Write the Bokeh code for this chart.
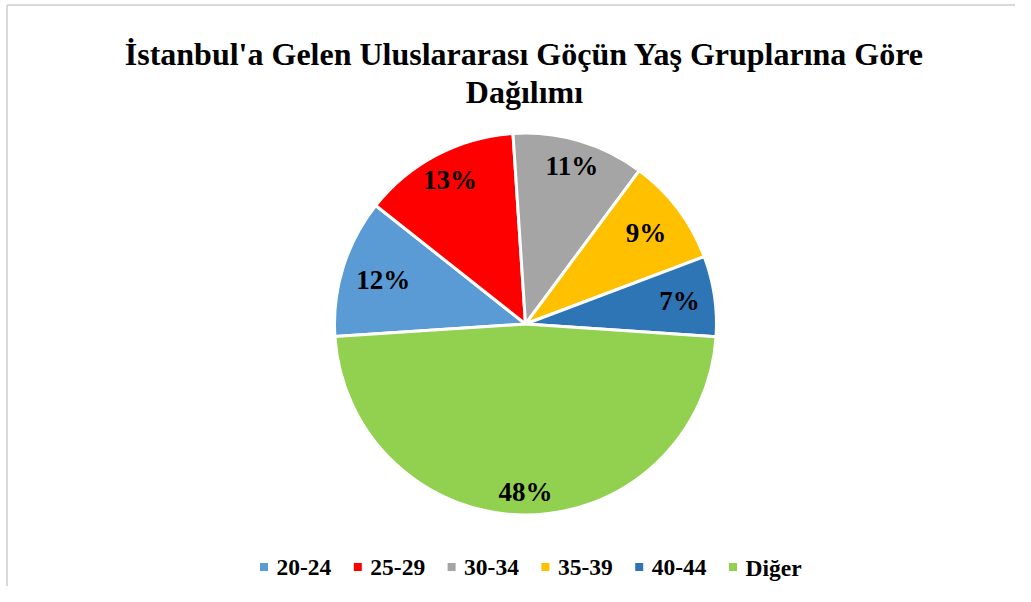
import math
from bokeh.plotting import figure
from bokeh.models import Range1d, ColumnDataSource
from bokeh.core.properties import value
from bokeh.embed import file_html
from bokeh.resources import INLINE

# ---- data ----
categories = ["20-24", "25-29", "30-34", "35-39", "40-44", "Diğer"]
shares = [11.7, 13.3, 11.2, 9.1, 6.8, 47.9]
colors = ["#5B9BD5", "#FF0000", "#A5A5A5", "#FFC000", "#2E75B6", "#92D050"]
title_lines = ["İstanbul'a Gelen Uluslararası Göçün Yaş Gruplarına Göre", "Dağılımı"]

# ---- layout / style ----
W, H = 1015, 586
FONT = value("Liberation Serif")
cx, cy, R = 525, 262.5, 191
start_deg = 183.76
label_r = [0.78, 0.85, 0.86, 0.79, 0.815, 0.88]

p = figure(width=W, height=H, output_backend="svg", toolbar_location=None,
           x_range=Range1d(0, W), y_range=Range1d(0, H),
           min_border=0, outline_line_color=None)
p.axis.visible = False
p.grid.visible = False
p.background_fill_color = "white"
p.border_fill_color = "white"

# chart-area border (top & left visible in reference)
p.line([6.5, W], [H - 4.5, H - 4.5], line_color="#d9d9d9", line_width=2)
p.line([6.5, 6.5], [0, H - 4.5], line_color="#d9d9d9", line_width=2)

total = sum(shares)
starts, ends, lx, ly, labels = [], [], [], [], []
cum = 0.0
for i, v in enumerate(shares):
    a0 = start_deg - cum / total * 360.0
    a1 = a0 - v / total * 360.0
    cum += v
    starts.append(math.radians(a1))
    ends.append(math.radians(a0))
    mid = math.radians((a0 + a1) / 2)
    lx.append(cx + R * label_r[i] * math.cos(mid))
    ly.append(cy + R * label_r[i] * math.sin(mid))
    labels.append(f"{round(v / total * 100)}%")

src = ColumnDataSource(dict(start=starts, end=ends, color=colors, cat=categories,
                            lx=lx, ly=ly, lab=labels))
p.wedge(x=cx, y=cy, radius=R, start_angle="start", end_angle="end",
        direction="anticlock", fill_color="color", line_color="white",
        line_width=3, source=src)
p.text(x="lx", y="ly", text="lab", source=src, text_font=FONT,
       text_font_style="bold", text_font_size="27px", text_color="black",
       text_align="center", text_baseline="middle")

# title
p.text(x=[524, 524], y=[H - 53, H - 91], text=title_lines,
       text_font=FONT, text_font_style="bold", text_font_size="32px",
       text_color="black", text_align="center", text_baseline="alphabetic")

# legend
lg_x0, lg_step, lg_y = 263.5, 93.8, H - 566.5
mx = [lg_x0 + i * lg_step for i in range(len(categories))]
p.scatter(x=mx, y=[lg_y] * len(mx), marker="square", size=8,
          fill_color=colors, line_color=None)
p.text(x=[m + 12.5 for m in mx], y=[lg_y - 0.5] * len(mx), text=categories,
       text_font=FONT, text_font_style="bold", text_font_size="23.5px",
       text_color="black", text_align="left", text_baseline="middle")

open("out.html", "w").write(file_html(p, INLINE))
